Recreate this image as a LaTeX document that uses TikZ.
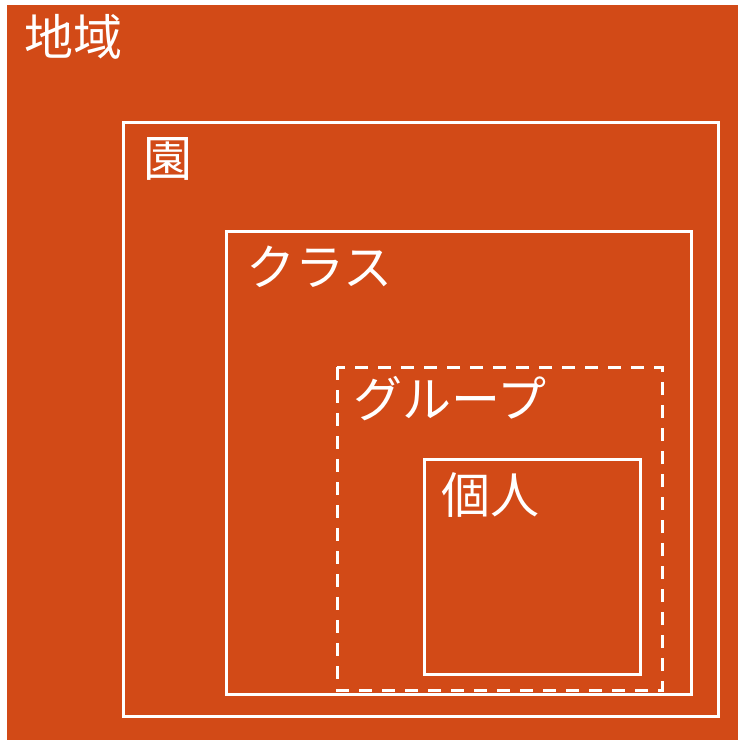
\documentclass[tikz,border=0pt]{standalone}
\usepackage{fontspec}
\setmainfont{Noto Sans CJK JP}
\definecolor{areaorange}{RGB}{210,74,23}
\tikzset{
	frame/.style={white,line width=3pt},
	boxlabel/.style={anchor=base west,inner sep=0,text=white,font=\fontsize{49}{52}\selectfont}
}

\begin{document}
\begin{tikzpicture}[x=1pt,y=-1pt]

	\fill[areaorange] (0,0) rectangle (738,740);
	\fill[white] (0,0) rectangle (738,5);
	\fill[white] (0,0) rectangle (7,740);
	\useasboundingbox (0,0) rectangle (738,740);

		\draw[frame] (123,122) rectangle (718,716);
		\draw[frame] (226,231) rectangle (691,694);
		\draw[frame,dash pattern=on 13pt off 10pt] (337,367) rectangle (662,690);
		\draw[frame] (424,459) rectangle (640,674);

		\node[boxlabel] (region) at (24,55) {地域};
		\node[boxlabel] (school) at (143,176) {園};
		\node[boxlabel] (class) at (246,285) {クラス};
		\node[boxlabel] (group) at (353,417) {グループ};
		\node[boxlabel] (person) at (441,513) {個人};

	\end{tikzpicture}
\end{document}
